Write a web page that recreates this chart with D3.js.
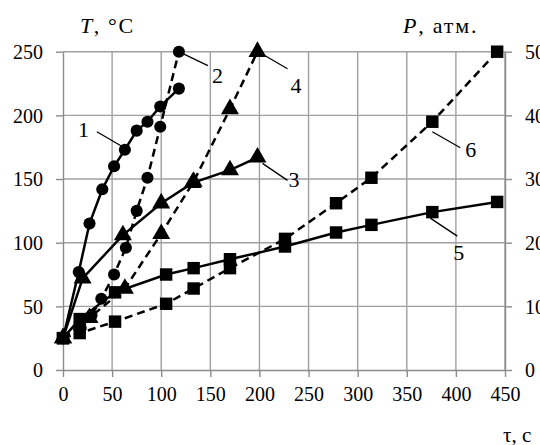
<!DOCTYPE html>
<html>
<head>
<meta charset="utf-8">
<script src="https://cdn.jsdelivr.net/npm/d3@7"></script>
<style>
	body { margin: 0; background: #fff; }
	.grid line { stroke: #a0a0a0; stroke-width: 1.4; }
	.axis path, .axis line { stroke: #8c8c8c; stroke-width: 1.4; }
	.leader { stroke: #000; stroke-width: 1.3; }
</style>
</head>
<body>
<svg id="chart" width="540" height="445" font-family="Liberation Serif"></svg>
<script>
//
// data
//

var xTicks = [0, 50, 100, 150, 200, 250, 300, 350, 400, 450];
var tTicks = [0, 50, 100, 150, 200, 250];
var pTicks = [0, 10, 20, 30, 40, 50];

// 1: T, solid, circles
var t1 = [0, 16, 27, 40, 52, 63, 75, 86, 99, 118];
var v1 = [25, 77, 115, 142, 160, 173, 188, 195, 207, 221];
// 2: P, dashed, circles
var t2 = [0, 18, 29, 39, 52, 64, 75, 86, 99, 118];
var v2 = [5, 6.6, 8.6, 11.2, 15, 19.2, 25, 30.2, 38.2, 50];
// 3: T, solid, triangles
var t3 = [0, 20, 61, 100, 132, 170, 198];
var v3 = [25, 72, 106, 131, 147, 157, 167];
// 4: P, dashed, triangles
var t4 = [0, 27, 63, 100, 133, 170, 198];
var v4 = [5, 8.2, 12.8, 21.4, 29.6, 41, 50];
// 5: T, solid, squares
var t5 = [0, 17, 53, 105, 133, 170, 226, 278, 314, 376, 442];
var v5 = [25, 40, 61, 75, 80, 87, 97, 108, 114, 124, 132];
// 6: P, dashed, squares
var t6 = [0, 17, 53, 105, 133, 170, 226, 278, 314, 376, 442];
var v6 = [5, 5.8, 7.6, 10.4, 12.8, 16, 20.6, 26.2, 30.2, 39, 50];

var seriesNames = ["1", "2", "3", "4", "5", "6"];
var seriesAxis = ["T", "P", "T", "P", "T", "P"];
var seriesMarker = ["circle", "circle", "triangle", "triangle", "square", "square"];
var seriesDashed = [false, true, false, true, false, true];
var seriesTimes = [t1, t2, t3, t4, t5, t6];
var seriesValues = [v1, v2, v3, v4, v5, v6];

// which point each number label points at
var labelPoint = [5, 9, 6, 6, 9, 9];

//
// layout
//

var serif = "Liberation Serif";
var svg = d3.select("#chart");
var plotLeft = 63, plotRight = 505, plotTop = 51.7, plotBottom = 370;

var x = d3.scaleLinear().domain([0, 450]).range([plotLeft, plotRight]);
var yT = d3.scaleLinear().domain([0, 250]).range([plotBottom, plotTop]);
var yP = d3.scaleLinear().domain([0, 50]).range([plotBottom, plotTop]);

// grid
var grid = svg.append("g").attr("class", "grid");
grid.selectAll("line.v")
	.data(xTicks.filter(d => d > 0))
	.enter()
	.append("line")
		.attr("class", "v")
		.attr("x1", d => x(d)).attr("x2", d => x(d))
		.attr("y1", plotTop).attr("y2", plotBottom);
grid.selectAll("line.h")
	.data(tTicks.filter(d => d > 0))
	.enter()
	.append("line")
		.attr("class", "h")
		.attr("x1", plotLeft).attr("x2", plotRight)
		.attr("y1", d => yT(d)).attr("y2", d => yT(d));

// axes
svg.append("g")
	.attr("class", "axis")
	.attr("transform", "translate(0," + plotBottom + ")")
	.call(d3.axisBottom(x).tickValues(xTicks).tickSize(7).tickSizeOuter(0).tickPadding(24))
	.call(g => g.selectAll("text").attr("dy", "0"));

svg.append("g")
	.attr("class", "axis")
	.attr("transform", "translate(" + plotLeft + ",0)")
	.call(d3.axisLeft(yT).tickValues(tTicks).tickSize(7).tickSizeOuter(0).tickPadding(13))
	.call(g => g.selectAll("text").attr("dy", "0.34em"));

svg.append("g")
	.attr("class", "axis")
	.attr("transform", "translate(" + plotRight + ",0)")
	.call(d3.axisRight(yP).tickValues(pTicks).tickSize(7).tickSizeOuter(0).tickPadding(13))
	.call(g => g.selectAll("text").attr("dy", "0.34em"));

svg.selectAll(".axis").attr("font-family", serif).attr("font-size", 20);
svg.selectAll(".axis text").attr("fill", "#000").attr("font-family", serif);

// axis titles
var tt = svg.append("text").attr("x", 80).attr("y", 33)
	.attr("font-size", 22).attr("letter-spacing", 1.6).attr("font-family", serif);
tt.append("tspan").attr("font-style", "italic").text("T");
tt.append("tspan").text(", °C");

var pt = svg.append("text").attr("x", 403).attr("y", 33)
	.attr("font-size", 22).attr("letter-spacing", 1.8).attr("font-family", serif);
pt.append("tspan").attr("font-style", "italic").text("P");
pt.append("tspan").text(", атм.");

svg.append("text").attr("x", 503).attr("y", 442).attr("font-size", 21).attr("font-family", serif).text("τ, с");

//
// series
//

function get_points(i)
{
	var ys = seriesAxis[i] == "T" ? yT : yP;
	return seriesTimes[i].map(function(t, j) {
		return [x(t), ys(seriesValues[i][j])];
	});
}

var line = d3.line();
var sym = {
	circle: d3.symbol().type(d3.symbolCircle).size(115),
	triangle: d3.symbol().type(d3.symbolTriangle).size(140),
	square: d3.symbol().type(d3.symbolSquare).size(155)
};

var gLines = svg.append("g");
var gMarks = svg.append("g");

seriesNames.forEach(function(name, i) {
	var pts = get_points(i);
	gLines.append("path")
		.attr("d", line(pts))
		.attr("fill", "none")
		.attr("stroke", "#000")
		.attr("stroke-width", 2.5)
		.attr("stroke-dasharray", seriesDashed[i] ? "8,5" : null);
	gMarks.selectAll("path.m" + i)
		.data(pts)
		.enter()
		.append("path")
			.attr("class", "m" + i)
			.attr("d", sym[seriesMarker[i]])
			.attr("transform", d => "translate(" + d + ")")
			.attr("fill", "#000");
});

// number labels with leaders: [leader start, leader end, text] offsets from the point
var labelOffsets = [
	[[-4, -4], [-28, -18], [-47, -13]],
	[[4, 2], [29, 14], [33, 31]],
	[[5, 6], [30, 23], [31, 30]],
	[[6, 3], [30, 17], [33, 41]],
	[[-2, 6], [25, 24], [21, 48]],
	[[0, 10], [28, 26], [33, 35]]
];

seriesNames.forEach(function(name, i) {
	var p = get_points(i)[labelPoint[i]];
	var o = labelOffsets[i];
	svg.append("line")
		.attr("class", "leader")
		.attr("x1", p[0] + o[0][0]).attr("y1", p[1] + o[0][1])
		.attr("x2", p[0] + o[1][0]).attr("y2", p[1] + o[1][1]);
	svg.append("text")
		.attr("x", p[0] + o[2][0])
		.attr("y", p[1] + o[2][1])
		.attr("font-size", 22)
		.attr("font-family", serif)
		.text(name);
});
</script>
</body>
</html>
